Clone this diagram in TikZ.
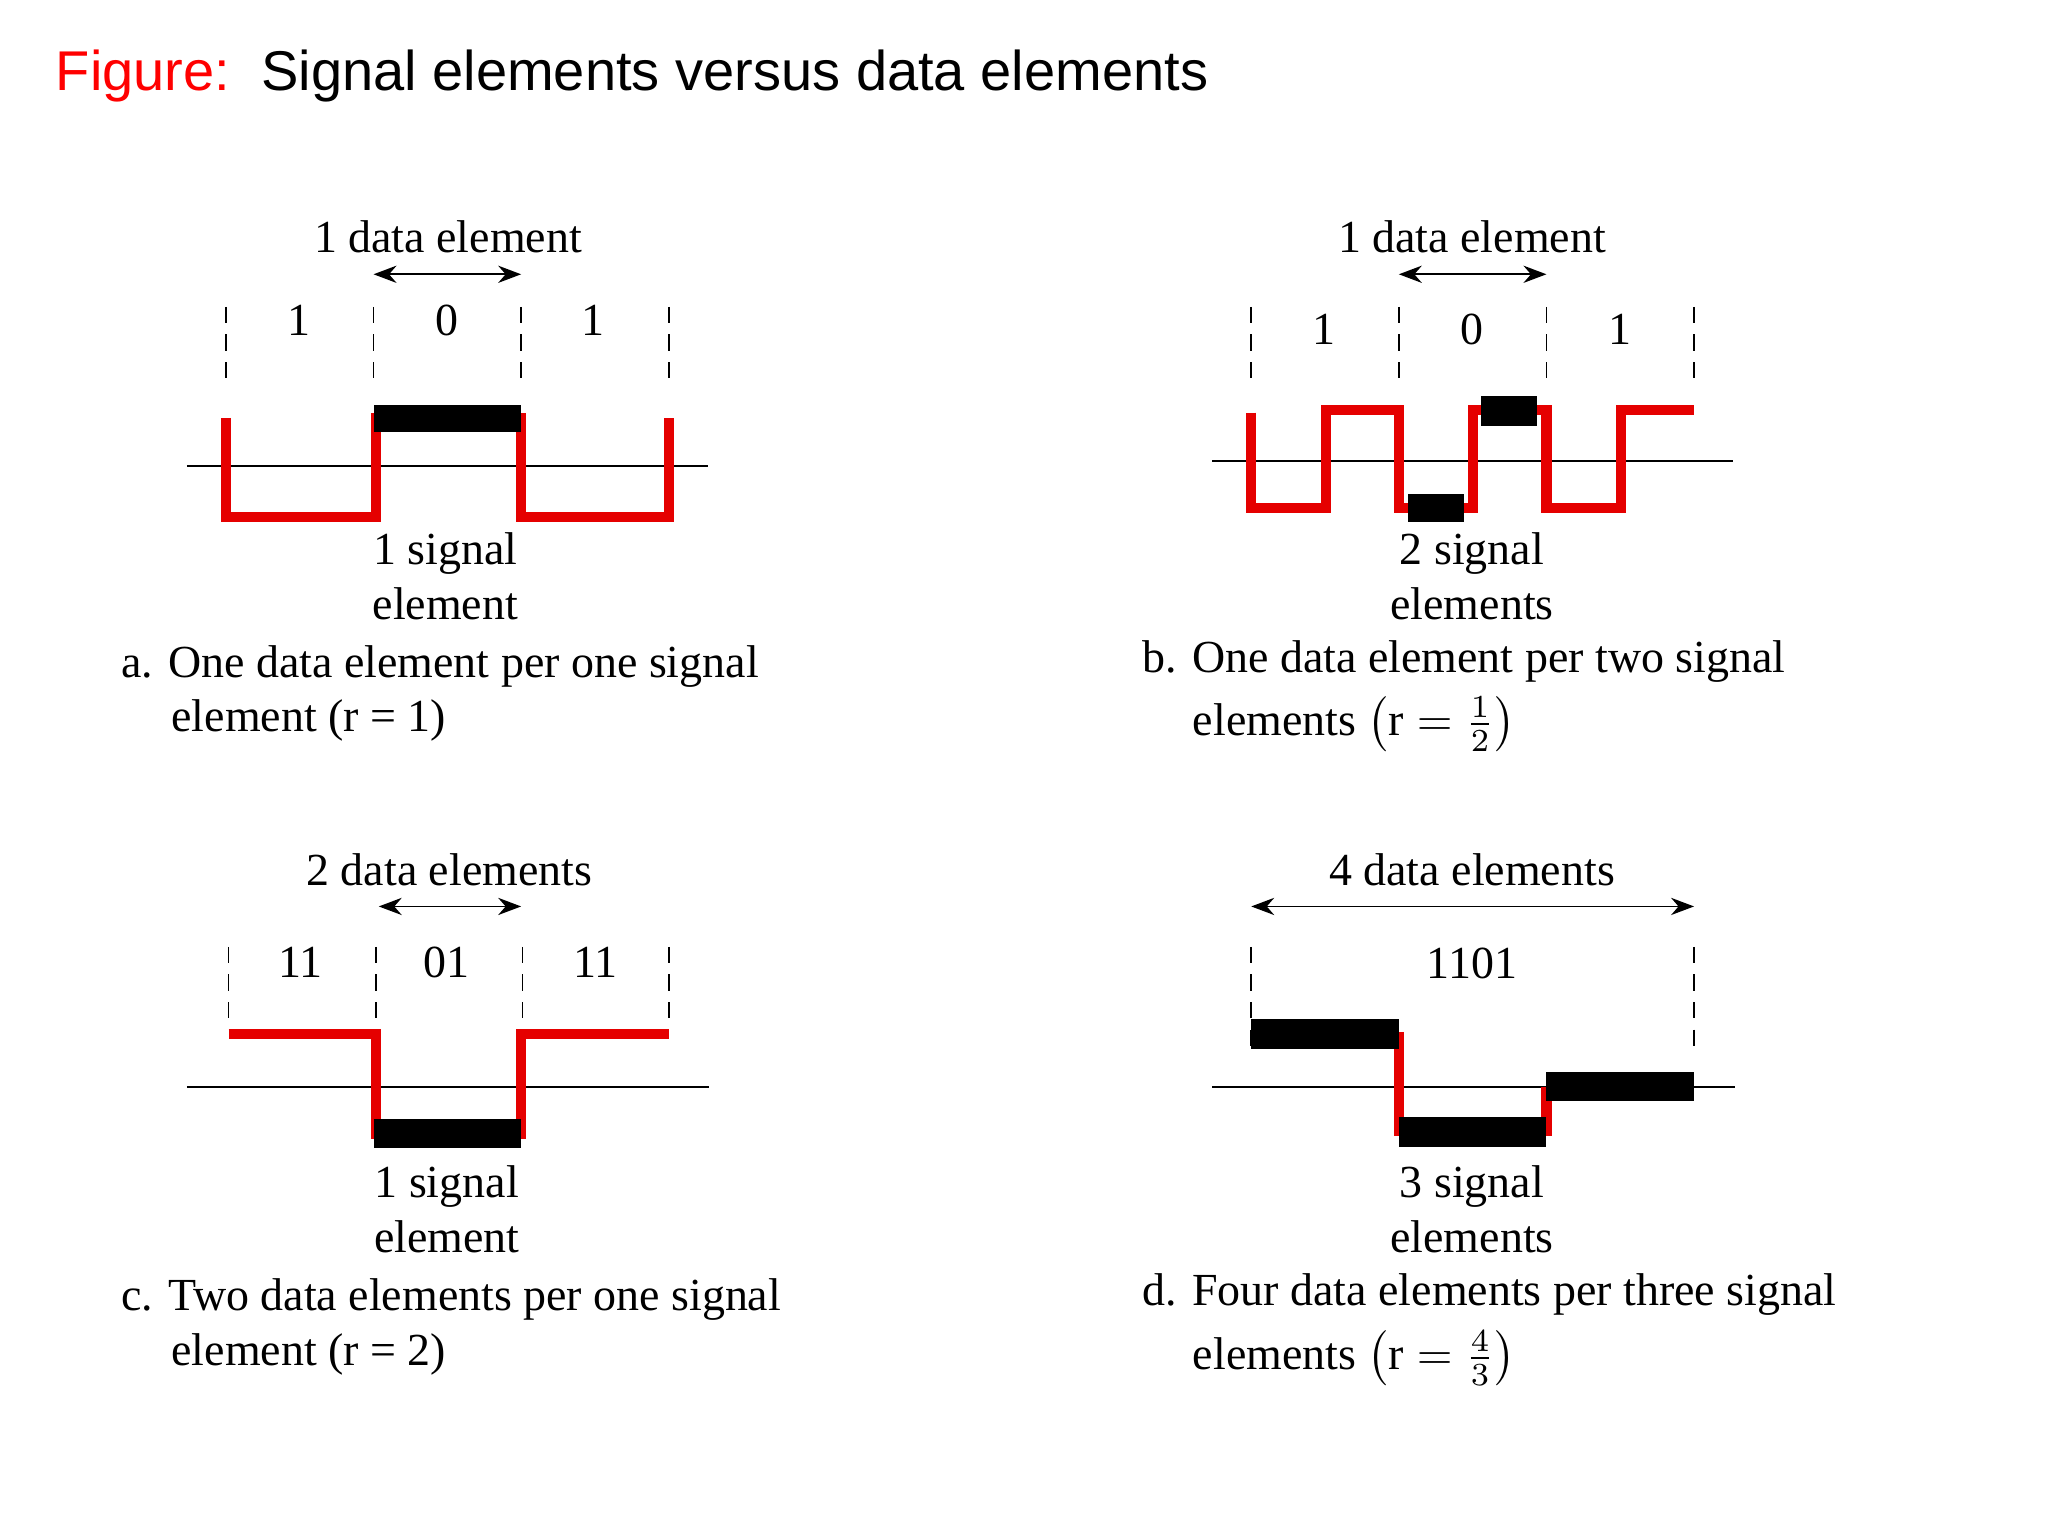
\documentclass[tikz,border=0pt]{standalone}
\usepackage{fontspec}
\setmainfont{Liberation Serif}
\setsansfont{Liberation Sans}
\usetikzlibrary{arrows.meta}
\begin{document}
\begin{tikzpicture}[x=0.01cm,y=-0.01cm,
  txt/.style={font=\fontsize{10}{12}\selectfont},
  captxt/.style={font=\fontsize{10}{11.8}\selectfont,anchor=west,inner sep=0pt},
  tick/.style={thin,dash pattern=on 3.5pt off 2.5pt},
  sig/.style={red!90!black,line width=2.2pt},
  bar/.style={fill=black},
  axis/.style={thin},
  span/.style={{Stealth[length=5pt]}-{Stealth[length=5pt]},thin}]
\useasboundingbox (0,0) rectangle (1568,1176);
\node[anchor=west,inner sep=0pt,font=\sffamily\fontsize{12.2}{14}\selectfont] (T) at (42,58) {\textcolor{red}{Figure:}\ \ Signal elements versus data elements};
% a
\node[txt] (aL) at (343,181) {1 data element};
\coordinate (a1) at (286,210); \coordinate (a2) at (399,210);
\draw[span] (a1) -- (a2);
\foreach \x in {173,286,399,512} \draw[tick] (\x,235) -- (\x,292);
\node[txt] (ad1) at (229,245) {1}; \node[txt] (ad2) at (342,245) {0}; \node[txt] (ad3) at (454,245) {1};
\draw[axis] (143,357) -- (542,357);
\draw[sig] (173,320) -- (173,396) -- (288,396) -- (288,320) -- (399,320) -- (399,396) -- (512,396) -- (512,320);
\fill[bar] (286,310) rectangle (399,331);
\node[txt,align=center] (aS) at (341,441) {1 signal\\element};
\node[captxt,align=left] (aC) at (92,531) {a. One data element per one signal\\\hspace*{1.1em}element (r = 1)};
% b
\node[txt] (bL) at (1127,181) {1 data element};
\coordinate (b1) at (1071,210); \coordinate (b2) at (1184,210);
\draw[span] (b1) -- (b2);
\foreach \x in {958,1071,1184,1297} \draw[tick] (\x,235) -- (\x,292);
\node[txt] (bd1) at (1014,252) {1}; \node[txt] (bd2) at (1127,252) {0}; \node[txt] (bd3) at (1240,252) {1};
\draw[axis] (928,353) -- (1327,353);
\draw[sig] (958,316) -- (958,389) -- (1015,389) -- (1015,314) -- (1071,314) -- (1071,389) -- (1128,389) -- (1128,314) -- (1184,314) -- (1184,389) -- (1241,389) -- (1241,314) -- (1297,314);
\fill[bar] (1078,378) rectangle (1121,400);
\fill[bar] (1134,303) rectangle (1177,326);
\node[txt,align=center] (bS) at (1127,441) {2 signal\\elements};
\node[captxt,align=left] (bC) at (874,533) {b. One data element per two signal\\[2pt]\hspace*{1.1em}elements $\left(\mathrm{r} = \frac{1}{2}\right)$};
% c
\node[txt] (cL) at (344,666) {2 data elements};
\coordinate (c1) at (290,694); \coordinate (c2) at (399,694);
\draw[span] (c1) -- (c2);
\foreach \x in {175,288,400,512} \draw[tick] (\x,725) -- (\x,785);
\node[txt] (cd1) at (230,737) {11}; \node[txt] (cd2) at (342,737) {01}; \node[txt] (cd3) at (456,737) {11};
\draw[axis] (143,832) -- (543,832);
\draw[sig] (175,792) -- (288,792) -- (288,868) -- (399,868) -- (399,792) -- (512,792);
\fill[bar] (286,857) rectangle (399,879);
\node[txt,align=center] (cS) at (342,926) {1 signal\\element};
\node[captxt,align=left] (cC) at (92,1016) {c. Two data elements per one signal\\\hspace*{1.1em}element (r = 2)};
% d
\node[txt] (dL) at (1127,666) {4 data elements};
\coordinate (d1) at (958,694); \coordinate (d2) at (1297,694);
\draw[span] (d1) -- (d2);
\foreach \x in {958,1297} \draw[tick] (\x,725) -- (\x,805);
\node[txt] (dd) at (1127,738) {1101};
\draw[axis] (928,832) -- (1328,832);
\draw[sig] (1071,790) -- (1071,866) -- (1184,866) -- (1184,832);
\fill[bar] (958,780) rectangle (1071,803);
\fill[bar] (1071,855) rectangle (1184,878);
\fill[bar] (1184,821) rectangle (1297,843);
\node[txt,align=center] (dS) at (1127,926) {3 signal\\elements};
\node[captxt,align=left] (dC) at (874,1018) {d. Four data elements per three signal\\[2pt]\hspace*{1.1em}elements $\left(\mathrm{r} = \frac{4}{3}\right)$};
\end{tikzpicture}
\end{document}
